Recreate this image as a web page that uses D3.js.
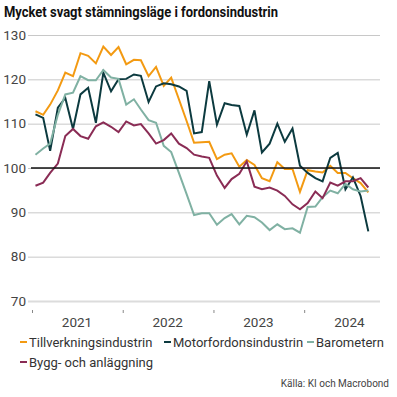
<!DOCTYPE html>
<html>
<head>
<meta charset="utf-8">
<script src="https://cdn.jsdelivr.net/npm/d3@7"></script>
<style>
  body { margin: 0; background: #fff; }
  text { font-family: Roboto, "Noto Sans", sans-serif; }
</style>
</head>
<body>
<div id="vis"></div>
<script>
// Frame
const FRAME_WIDTH = 397;
const FRAME_HEIGHT = 397;
const MARGINS = {left: 32, right: 17, top: 35, bottom: 96};

// Data: monthly values, Jan 2021 - Sep 2024
const months = d3.timeMonth.range(new Date(2021, 0, 1), new Date(2024, 9, 1))
                 .map(d => new Date(d.getFullYear(), d.getMonth(), 15));

const tillverkning = [112.8, 112.0, 114.3, 117.5, 121.5, 120.7, 125.9, 125.3, 123.6, 127.4, 125.5, 127.3,
                      123.4, 124.4, 124.3, 120.7, 122.8, 118.5, 120.4, 115.5, 110.6, 105.7, 105.8, 105.9,
                      102.0, 103.0, 103.3, 100.3, 101.8, 100.7, 97.7, 97.0, 101.3, 99.8, 99.8, 94.6,
                      99.5, 99.2, 99.0, 100.5, 98.9, 98.9, 97.7, 96.6, 94.5];
const motorfordon = [112.1, 111.3, 103.9, 113.6, 115.8, 108.8, 116.6, 118.1, 110.2, 121.5, 117.3, 120.0,
                     120.1, 121.1, 120.8, 114.9, 118.4, 119.1, 118.9, 118.4, 117.4, 107.8, 108.1, 119.6,
                     109.8, 114.6, 114.2, 114.0, 107.5, 113.0, 103.5, 105.5, 110.0, 105.9, 108.9, 100.5,
                     98.9, 97.7, 97.0, 102.3, 103.4, 95.2, 97.9, 93.7, 85.7];
const barometern = [103.0, 104.4, 105.5, 112.0, 116.6, 117.0, 120.7, 119.8, 119.8, 122.1, 120.4, 120.1,
                    114.3, 115.5, 113.2, 110.8, 110.2, 105.0, 103.6, 98.9, 94.1, 89.4, 89.8, 89.8,
                    87.2, 88.7, 89.6, 87.3, 89.2, 88.9, 87.7, 86.0, 87.3, 86.2, 86.4, 85.4,
                    91.2, 91.3, 93.4, 94.9, 94.3, 96.4, 95.2, 94.7, 94.9];
const bygg = [96.0, 96.7, 98.9, 101.0, 107.2, 108.8, 107.2, 106.6, 109.4, 110.3, 109.3, 108.1,
              110.5, 109.6, 109.9, 107.8, 105.5, 106.3, 107.8, 105.5, 104.5, 103.0, 102.6, 102.3,
              98.3, 95.5, 97.5, 98.7, 101.5, 95.8, 95.2, 95.6, 94.9, 93.7, 91.8, 90.7,
              92.1, 94.7, 93.2, 96.7, 96.0, 97.0, 97.0, 97.7, 95.6];

const seriesNames = ["Tillverkningsindustrin", "Motorfordonsindustrin", "Barometern", "Bygg- och anläggning"];
const seriesColors = ["#f39a12", "#0c3a3f", "#80b1a3", "#8a2c55"];
const seriesValues = [tillverkning, motorfordon, barometern, bygg];

const yTicks = [70, 80, 90, 100, 110, 120, 130];
const yearLabels = [2021, 2022, 2023, 2024];

const VIS_WIDTH = FRAME_WIDTH - MARGINS.left - MARGINS.right;
const VIS_HEIGHT = FRAME_HEIGHT - MARGINS.top - MARGINS.bottom;

const FRAME = d3.select("#vis")
  .append("svg")
    .attr("width", FRAME_WIDTH)
    .attr("height", FRAME_HEIGHT);

const X_SCALE = d3.scaleTime()
  .domain([new Date(2021, 0, 1), new Date(2024, 10, 1)])
  .range([MARGINS.left, MARGINS.left + VIS_WIDTH]);

const Y_SCALE = d3.scaleLinear()
  .domain([70, 130])
  .range([MARGINS.top + VIS_HEIGHT, MARGINS.top]);

// Title
FRAME.append("text")
  .attr("x", 4)
  .attr("y", 17)
  .attr("font-size", "14.5px")
  .attr("font-weight", 700)
  .attr("fill", "#111")
  .attr("textLength", 274)
  .attr("lengthAdjust", "spacingAndGlyphs")
  .text("Mycket svagt stämningsläge i fordonsindustrin");

// Y axis with gridlines
const yAxis = FRAME.append("g")
  .attr("transform", "translate(" + (MARGINS.left - 1) + ",0)")
  .call(d3.axisLeft(Y_SCALE).tickValues(yTicks).tickSize(-VIS_WIDTH - 1).tickPadding(5));
yAxis.select(".domain").remove();
yAxis.selectAll(".tick line")
  .attr("x1", -3)
  .attr("stroke", d => d === 70 ? "#dcdcdc" : "#c8c8c8")
  .attr("stroke-width", d => d === 70 ? 2 : 1);
yAxis.selectAll(".tick text")
  .attr("font-size", "13.5px")
  .attr("fill", "#444")
  .style("font-family", "Roboto, sans-serif");

// X axis: year ticks at boundaries, labels mid-year
const xAxis = FRAME.append("g")
  .attr("transform", "translate(0," + (MARGINS.top + VIS_HEIGHT + 9) + ")")
  .call(d3.axisBottom(X_SCALE)
    .tickValues(yearLabels.map(y => new Date(y, 0, 1)))
    .tickSize(3)
    .tickFormat(""));
xAxis.select(".domain").remove();
xAxis.selectAll(".tick line").attr("stroke", "#888");

FRAME.append("g")
  .selectAll("text")
  .data(yearLabels)
  .enter()
  .append("text")
    .attr("x", d => X_SCALE(new Date(d, 6, 1)))
    .attr("y", MARGINS.top + VIS_HEIGHT + 26)
    .attr("text-anchor", "middle")
    .attr("font-size", "13.5px")
    .attr("fill", "#444")
    .text(d => d);

// Lines
const line = d3.line()
  .x((d, i) => X_SCALE(months[i]))
  .y(d => Y_SCALE(d));

FRAME.append("g")
  .selectAll("path")
  .data(seriesValues)
  .enter()
  .append("path")
    .attr("d", d => line(d))
    .attr("fill", "none")
    .attr("stroke", (d, i) => seriesColors[i])
    .attr("stroke-width", 2)
    .attr("stroke-linejoin", "miter");

// 100 reference line
FRAME.append("line")
  .attr("x1", MARGINS.left - 1)
  .attr("x2", MARGINS.left + VIS_WIDTH)
  .attr("y1", Y_SCALE(100))
  .attr("y2", Y_SCALE(100))
  .attr("stroke", "#111")
  .attr("stroke-width", 1.5);

// Legend
const legendPos = [[20, 347], [164, 347], [307, 347], [20, 367]];
const legend = FRAME.append("g")
  .selectAll("g")
  .data(seriesNames)
  .enter()
  .append("g")
    .attr("transform", (d, i) => "translate(" + legendPos[i][0] + "," + legendPos[i][1] + ")");
legend.append("line")
  .attr("x1", 0).attr("x2", 7)
  .attr("y1", -5).attr("y2", -5)
  .attr("stroke", (d, i) => seriesColors[i])
  .attr("stroke-width", 2);
legend.append("text")
  .attr("x", 9)
  .attr("y", 0)
  .attr("font-size", "13px")
  .attr("fill", "#333")
  .text(d => d);

// Source
FRAME.append("text")
  .attr("x", 389)
  .attr("y", 387)
  .attr("text-anchor", "end")
  .attr("font-size", "10px")
  .attr("fill", "#444")
  .text("Källa: KI och Macrobond");
</script>
</body>
</html>
